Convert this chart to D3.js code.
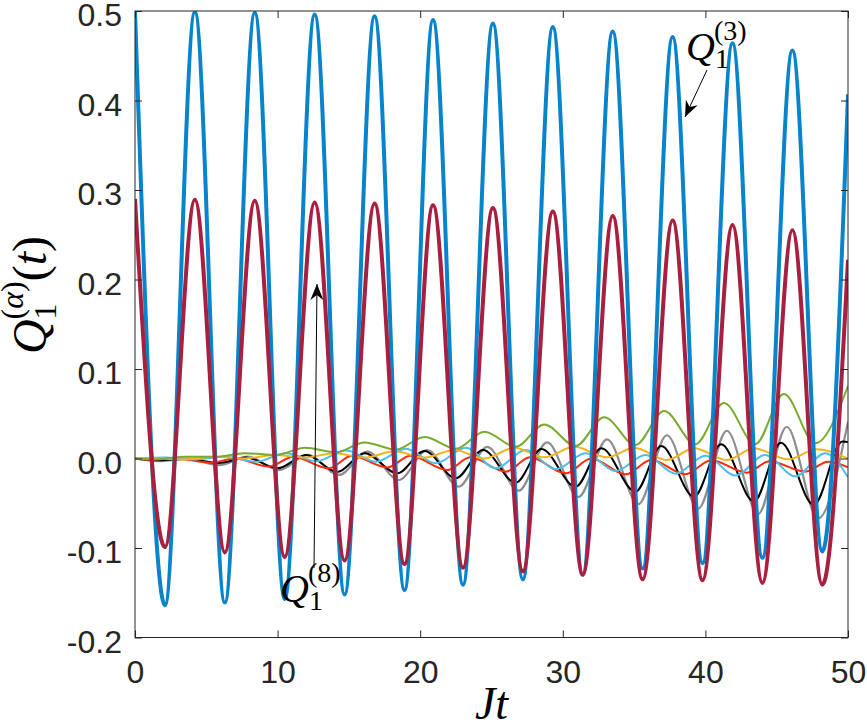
<!DOCTYPE html>
<html>
<head>
<meta charset="utf-8">
<title>Q1 alpha (t)</title>
<script src="https://d3js.org/d3.v7.min.js"></script>
<style>
  body { margin: 0; background: #fff; }
  svg { display: block; }
  .tick text { font-family: "Liberation Sans", Arial, sans-serif; font-size: 32px; fill: #262626; }
  .tick line { stroke: #262626; }
  .math { font-family: "Liberation Serif", "DejaVu Serif", serif; fill: #000; }
</style>
</head>
<body>
<div id="chart"></div>
<script>
// axis ticks
var xTicks = [0, 10, 20, 30, 40, 50];
var yTicks = [-0.2, -0.1, 0.0, 0.1, 0.2, 0.3, 0.4, 0.5];
var yTickLabels = ["-0.2", "-0.1", "0.0", "0.1", "0.2", "0.3", "0.4", "0.5"];

// curves as [Jt, value] at each turning point
var q3 = [[0,0.500],[2.1,-0.164],[4.2,0.499],[6.3,-0.161],[8.4,0.498],[10.5,-0.157],[12.6,0.496],[14.7,-0.152],
  [16.8,0.494],[18.9,-0.147],[20.9,0.490],[23.0,-0.141],[25.1,0.486],[27.2,-0.135],[29.3,0.482],[31.4,-0.129],
  [33.5,0.477],[35.6,-0.123],[37.7,0.471],[39.8,-0.117],[41.9,0.464],[44.0,-0.111],[46.1,0.456],[48.2,-0.104],[50,0.407]];
var q8 = [[0,0.290],[2.1,-0.099],[4.2,0.289],[6.3,-0.105],[8.4,0.288],[10.5,-0.110],[12.6,0.286],[14.7,-0.114],
  [16.8,0.285],[18.9,-0.118],[20.9,0.283],[23.0,-0.122],[25.1,0.280],[27.2,-0.126],[29.3,0.276],[31.4,-0.130],
  [33.5,0.271],[35.6,-0.135],[37.7,0.266],[39.8,-0.136],[41.9,0.261],[44.0,-0.139],[46.1,0.255],[48.2,-0.141],[50,0.222]];
var greenPts = [[0,0],[1.5,-0.001],[3.5,0.002],[5.7,0.002],[7.7,0.006],[9.9,0.004],[11.9,0.012],[14.1,0.007],
  [16.1,0.018],[18.3,0.010],[20.3,0.024],[22.5,0.011],[24.5,0.030],[26.7,0.013],[28.7,0.038],[30.9,0.014],
  [32.9,0.046],[35.1,0.015],[37.1,0.053],[39.3,0.016],[41.3,0.062],[43.5,0.016],[45.5,0.072],[47.7,0.017],[50,0.081]];
var grayPts = [[0,0],[1.7,-0.003],[3.7,0.000],[5.9,-0.0075],[7.9,0.002],[10.1,-0.013],[12.1,0.004],[14.3,-0.0184],
  [16.3,0.0076],[18.5,-0.024],[20.5,0.0095],[22.7,-0.0315],[24.7,0.013],[26.9,-0.036],[28.9,0.018],[31.1,-0.043],
  [33.1,0.0214],[35.3,-0.051],[37.3,0.026],[39.5,-0.056],[41.5,0.031],[43.7,-0.062],[45.7,0.0355],[47.9,-0.067],[50,0.041]];
var blackPts = [[0,0],[1.7,-0.002],[3.6,-0.0005],[5.9,-0.005],[7.8,0.001],[10.0,-0.011],[12.0,0.004],[14.2,-0.015],
  [16.1,0.006],[18.4,-0.0166],[20.3,0.0085],[22.5,-0.022],[24.4,0.0095],[26.7,-0.027],[28.5,0.0106],[30.9,-0.0315],
  [32.7,0.0114],[35.1,-0.037],[36.9,0.014],[39.2,-0.0427],[41.1,0.0158],[43.4,-0.048],[45.3,0.0177],[47.6,-0.052],[49.6,0.019],[50,0.0185]];
var orangePts = [[0,0],[1.4,0.0],[3.5,-0.001],[5.6,0.002],[7.7,0.0],[9.8,0.004],[11.9,0.001],[14.0,0.006],
  [16.1,0.001],[18.2,0.008],[20.3,0.001],[22.4,0.0095],[24.5,0.0],[26.6,0.012],[28.7,0.0013],[30.8,0.013],
  [33.1,0.0013],[35.0,0.012],[37.3,-0.0017],[39.2,0.0114],[41.5,-0.0017],[43.4,0.0114],[45.8,-0.001],[47.8,0.0103],[50,0.0]];
var redPts = [[0,0],[0.9,-0.001],[2.8,0.0],[5.3,-0.0047],[7.0,0.0],[9.4,-0.009],[11.1,0.002],[13.6,-0.011],
  [15.2,0.003],[17.7,-0.010],[19.3,0.003],[21.9,-0.0128],[23.5,0.0013],[26.0,-0.0147],[27.7,0.0013],[30.2,-0.0166],
  [32.0,0.0],[34.4,-0.0177],[36.2,-0.0017],[38.6,-0.0177],[40.4,-0.002],[42.9,-0.0158],[44.5,-0.003],[47.0,-0.0147],[48.6,-0.0035],[50,-0.0098]];
var cyanPts = [[0,0],[2.1,0.001],[4.2,-0.001],[6.3,0.002],[8.5,-0.0035],[10.6,0.006],[12.7,-0.003],[14.8,0.009],
  [16.9,-0.0035],[19.0,0.011],[21.1,-0.0054],[23.2,0.012],[25.3,-0.011],[27.4,0.0095],[29.5,-0.012],[31.6,0.006],
  [33.7,-0.014],[35.8,0.004],[37.9,-0.017],[40.0,0.003],[42.1,-0.019],[44.2,0.004],[46.3,-0.020],[48.4,0.006],[50,-0.021]];

// chart frame
var W = 867, H = 728;
var pLeft = 135, pRight = 848, pTop = 11, pBottom = 637.5;

var x = d3.scaleLinear().domain([0, 50]).range([pLeft, pRight]);
var y = d3.scaleLinear().domain([-0.2, 0.5]).range([pBottom, pTop]);

var svg = d3.select("#chart").append("svg")
  .attr("width", W).attr("height", H);

svg.append("defs").append("clipPath").attr("id", "plot")
  .append("rect").attr("x", pLeft).attr("y", pTop)
  .attr("width", pRight - pLeft).attr("height", pBottom - pTop);

var line = d3.line()
  .x(function(d) { return x(d[0]); })
  .y(function(d) { return y(d[1]); })
  .curve(d3.curveMonotoneX);

var series = [
  { pts: grayPts, color: "#8e8e8e", w: 2.2 },
  { pts: blackPts, color: "#000000", w: 2 },
  { pts: redPts, color: "#ff2a0a", w: 2 },
  { pts: cyanPts, color: "#4dbeee", w: 2 },
  { pts: orangePts, color: "#f0b41e", w: 2 },
  { pts: greenPts, color: "#77ac30", w: 2 },
  { pts: q3, color: "#0884cb", w: 4 },
  { pts: q8, color: "#a8203f", w: 4 }
];

var lines = svg.append("g").attr("clip-path", "url(#plot)");
lines.selectAll("path").data(series).enter().append("path")
  .attr("d", function(s) { return line(s.pts); })
  .attr("fill", "none")
  .attr("stroke", function(s) { return s.color; })
  .attr("stroke-width", function(s) { return s.w; })
  .attr("stroke-linejoin", "round");

// axes, MATLAB style: ticks inside, on all four sides
var yLabel = function(d) { return yTickLabels[yTicks.indexOf(d)]; };
svg.append("g").attr("transform", "translate(" + pLeft + ",0)")
  .call(d3.axisLeft(y).tickValues(yTicks).tickFormat(yLabel).tickSizeInner(-7).tickSizeOuter(0).tickPadding(13))
  .call(function(g) { g.select(".domain").remove(); g.selectAll("text").attr("dy", "0.46em"); });
svg.append("g").attr("transform", "translate(0," + pBottom + ")")
  .call(d3.axisBottom(x).tickValues(xTicks).tickFormat(d3.format("d")).tickSizeInner(-7).tickSizeOuter(0).tickPadding(23))
  .call(function(g) { g.select(".domain").remove(); });
svg.append("g").attr("transform", "translate(" + pRight + ",0)")
  .call(d3.axisRight(y).tickValues(yTicks).tickFormat("").tickSizeInner(-7).tickSizeOuter(0))
  .call(function(g) { g.select(".domain").remove(); });
svg.append("g").attr("transform", "translate(0," + pTop + ")")
  .call(d3.axisTop(x).tickValues(xTicks).tickFormat("").tickSizeInner(-7).tickSizeOuter(0))
  .call(function(g) { g.select(".domain").remove(); });

svg.append("rect")
  .attr("x", pLeft).attr("y", pTop)
  .attr("width", pRight - pLeft).attr("height", pBottom - pTop)
  .attr("fill", "none").attr("stroke", "#262626").attr("stroke-width", 1);

// axis titles
svg.append("text").attr("class", "math")
  .attr("x", (pLeft + pRight) / 2).attr("y", 719)
  .attr("text-anchor", "middle").attr("font-size", 46)
  .attr("font-style", "italic").text("Jt");

var yt = svg.append("text").attr("class", "math")
  .attr("transform", "translate(46,295) rotate(-90)")
  .attr("text-anchor", "middle").attr("font-size", 48);
yt.append("tspan").attr("font-style", "italic").text("Q");
yt.append("tspan").attr("font-size", 32).attr("dy", 10).text("1");
yt.append("tspan").attr("font-size", 32).attr("dx", -16).attr("dy", -33).text("(");
yt.append("tspan").attr("font-size", 32).attr("font-style", "italic").text("α");
yt.append("tspan").attr("font-size", 32).text(")");
yt.append("tspan").attr("dy", 23).text("(");
yt.append("tspan").attr("font-style", "italic").text("t");
yt.append("tspan").text(")");

// annotations Q1^(3) and Q1^(8) with arrows
function qLabel(px, py, alpha) {
  var t = svg.append("text").attr("class", "math")
    .attr("x", px).attr("y", py).attr("font-size", 40);
  t.append("tspan").attr("font-style", "italic").text("Q");
  t.append("tspan").attr("font-size", 28).attr("dy", 8).text("1");
  t.append("tspan").attr("font-size", 28).attr("dx", -15).attr("dy", -28).text("(" + alpha + ")");
}
qLabel(686, 60, 3);
qLabel(280, 602, 8);

function arrow(x1, y1, x2, y2) {
  var a = Math.atan2(y2 - y1, x2 - x1) * 180 / Math.PI;
  svg.append("line").attr("x1", x1).attr("y1", y1).attr("x2", x2).attr("y2", y2)
    .attr("stroke", "#000").attr("stroke-width", 1);
  svg.append("path")
    .attr("d", "M0,0 L-16,-6.5 L-11,0 L-16,6.5 Z")
    .attr("transform", "translate(" + x2 + "," + y2 + ") rotate(" + a + ")")
    .attr("fill", "#000");
}
arrow(707, 70, 685, 117);
arrow(314, 568, 317, 284);
</script>
</body>
</html>
